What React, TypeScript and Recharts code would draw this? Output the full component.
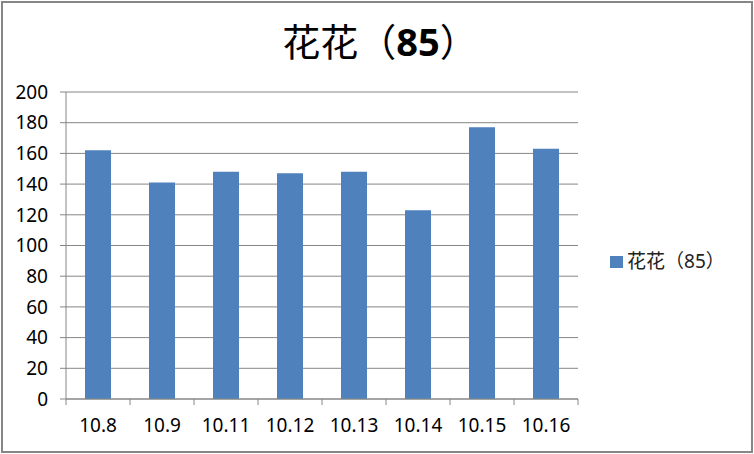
import React from 'react';
import { BarChart, Bar, XAxis, YAxis, CartesianGrid } from 'recharts';

const dates = ['10.8', '10.9', '10.11', '10.12', '10.13', '10.14', '10.15', '10.16'];
const scores = [162, 141, 148, 147, 148, 123, 177, 163];
const yTicks = [0, 20, 40, 60, 80, 100, 120, 140, 160, 180, 200];
const seriesName = '花花（85）';

const data = dates.map((d, i) => ({ date: d, value: scores[i] }));

const W = 754;
const H = 454;
const PLOT_LEFT = 66;
const PLOT_RIGHT = 578;
const PLOT_TOP = 92;
const PLOT_BOTTOM = 399;
const BAND = (PLOT_RIGHT - PLOT_LEFT) / dates.length;
const GREY = '#868686';
const BLUE = '#4F81BD';
const FONT = '"Noto Sans", "Noto Sans CJK SC", sans-serif';

const XTick = (props: any) => {
  const { x, y, payload, index } = props;
  return (
    <g>
      <line x1={x - BAND / 2} y1={y} x2={x - BAND / 2} y2={y + 6} stroke={GREY} />
      {index === dates.length - 1 && (
        <line x1={x + BAND / 2} y1={y} x2={x + BAND / 2} y2={y + 6} stroke={GREY} />
      )}
      <text x={x} y={y + 33} textAnchor="middle" fontSize={19} fill="#000" fontFamily={FONT}>
        {payload.value}
      </text>
    </g>
  );
};

export default function App() {
  return (
    <div style={{ position: 'absolute', left: 0, top: 0, width: W, height: H, background: '#fff', fontFamily: FONT }}>
      <BarChart
        width={W}
        height={H}
        data={data}
        margin={{ top: PLOT_TOP, right: W - PLOT_RIGHT, bottom: 0, left: 0 }}
        barSize={26}
      >
        <CartesianGrid vertical={false} stroke={GREY} strokeWidth={1} />
        <XAxis
          dataKey="date"
          height={H - PLOT_BOTTOM}
          axisLine={{ stroke: GREY }}
          tickLine={false}
          tickSize={0}
          tickMargin={0}
          interval={0}
          tick={<XTick />}
        />
        <YAxis
          width={PLOT_LEFT}
          domain={[0, 200]}
          ticks={yTicks}
          interval={0}
          axisLine={{ stroke: GREY }}
          tickLine={{ stroke: GREY }}
          tickSize={6}
          tickMargin={12}
          tick={{ fontSize: 19, fill: '#000', fontFamily: FONT }}
        />
        <Bar dataKey="value" name={seriesName} fill={BLUE} isAnimationActive={false} />
      </BarChart>

      <div
        style={{
          position: 'absolute',
          left: 10,
          top: 15,
          width: 740,
          textAlign: 'center',
          fontSize: 38,
          lineHeight: '50px',
          color: '#000',
          fontFamily: '"Noto Sans CJK SC", sans-serif',
        }}
      >
        花花（<span style={{ fontWeight: 700, fontFamily: FONT }}>85</span>）
      </div>

      <div
        style={{
          position: 'absolute',
          left: 610,
          top: 246,
          display: 'flex',
          alignItems: 'center',
          fontSize: 19,
          color: '#222',
          fontFamily: '"Noto Sans CJK SC", sans-serif',
        }}
      >
        <span style={{ display: 'inline-block', width: 13, height: 12, background: BLUE, marginRight: 4, marginTop: 4 }} />
        <span>花花（<span style={{ fontFamily: FONT }}>85</span>）</span>
      </div>

      <div
        style={{
          position: 'absolute',
          left: 1,
          top: 1,
          width: 752,
          height: 452,
          border: `2px solid ${GREY}`,
          boxSizing: 'border-box',
          pointerEvents: 'none',
        }}
      />
    </div>
  );
}
